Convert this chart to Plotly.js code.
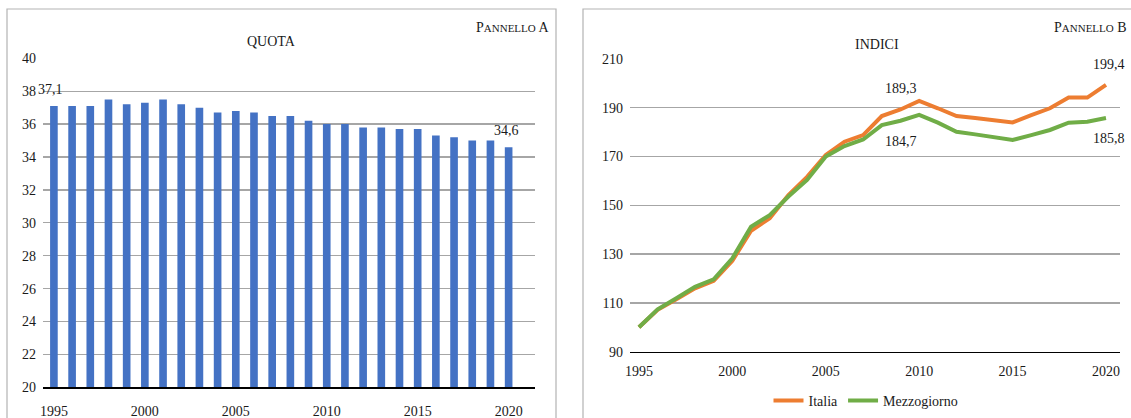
<!DOCTYPE html>
<html>
<head>
<meta charset="utf-8">
<script src="https://cdn.plot.ly/plotly-3.0.1.min.js"></script>
<style>
  html, body { margin: 0; padding: 0; background: #fff; }
  #chart { width: 1131px; height: 418px; }
</style>
</head>
<body>
<div id="chart"></div>
<script>
// Panel A - quota (bars)
const years = [1995, 1996, 1997, 1998, 1999, 2000, 2001, 2002, 2003, 2004, 2005, 2006, 2007,
               2008, 2009, 2010, 2011, 2012, 2013, 2014, 2015, 2016, 2017, 2018, 2019, 2020];
const quota = [37.1, 37.1, 37.1, 37.5, 37.2, 37.3, 37.5, 37.2, 37.0, 36.7, 36.8, 36.7, 36.5,
               36.5, 36.2, 36.0, 36.0, 35.8, 35.8, 35.7, 35.7, 35.3, 35.2, 35.0, 35.0, 34.6];

// Panel B - indici (1995 = 100)
const italia = [100, 107.2, 111.5, 116.0, 119.1, 127.3, 139.6, 144.7, 154.2, 161.7, 170.6, 176.1, 178.8,
                186.6, 189.3, 192.8, 189.8, 186.6, 185.8, 185.0, 184.0, 187.0, 189.8, 194.2, 194.2, 199.4];
const mezzogiorno = [100, 107.4, 111.9, 116.6, 119.7, 128.3, 141.2, 146.0, 153.6, 160.4, 170.0, 174.3, 177.0,
                     182.9, 184.7, 187.1, 183.9, 180.2, 179.1, 178.0, 176.8, 178.8, 180.9, 183.9, 184.3, 185.8];

const xTicks = [1995, 2000, 2005, 2010, 2015, 2020];
const labelYearsA = [1995, 2020];
const labelYearsB = [2009, 2020];

const W = 1131, H = 418;
const px = v => v / W;
const py = v => 1 - v / H;
const FONT = "'Liberation Serif', 'Times New Roman', serif";
const FS = 14;
const TXT = '#1a1a1a';
const comma = v => v.toFixed(1).replace('.', ',');

const traces = [
    {
        x: years, y: quota, type: 'bar', xaxis: 'x', yaxis: 'y',
        marker: { color: '#4472C4' }, width: 0.42, showlegend: false, hoverinfo: 'skip'
    },
    {
        x: years, y: italia, type: 'scatter', mode: 'lines', name: 'Italia',
        xaxis: 'x2', yaxis: 'y2', line: { color: '#ED7D31', width: 4 }
    },
    {
        x: years, y: mezzogiorno, type: 'scatter', mode: 'lines', name: 'Mezzogiorno',
        xaxis: 'x2', yaxis: 'y2', line: { color: '#70AD47', width: 4 }
    }
];

const annotations = [];
labelYearsA.forEach(yr => {
    const v = quota[years.indexOf(yr)];
    annotations.push({ x: yr, y: v, xref: 'x', yref: 'y', text: comma(v), showarrow: false,
        xanchor: 'center', yanchor: 'bottom', yshift: 7, xshift: yr === 1995 ? -3 : -2 });
});
labelYearsB.forEach(yr => {
    const i = years.indexOf(yr);
    annotations.push({ x: yr, y: italia[i], xref: 'x2', yref: 'y2', text: comma(italia[i]), showarrow: false,
        xanchor: 'center', yanchor: 'bottom', yshift: 11, xshift: yr === 2020 ? 3 : 0 });
    annotations.push({ x: yr, y: mezzogiorno[i], xref: 'x2', yref: 'y2', text: comma(mezzogiorno[i]), showarrow: false,
        xanchor: 'center', yanchor: 'top', yshift: -11, xshift: yr === 2020 ? 3 : 0 });
});
annotations.push(
    { x: px(271), y: py(41), xref: 'paper', yref: 'paper', text: 'QUOTA', showarrow: false,
      xanchor: 'center', yanchor: 'middle' },
    { x: px(877), y: py(44), xref: 'paper', yref: 'paper', text: 'INDICI', showarrow: false,
      xanchor: 'center', yanchor: 'middle' },
    { x: px(551), y: py(27), xref: 'paper', yref: 'paper', xanchor: 'right', yanchor: 'middle', showarrow: false,
      text: 'P<span style="font-size:11px">ANNELLO</span> A' },
    { x: px(1129), y: py(27), xref: 'paper', yref: 'paper', xanchor: 'right', yanchor: 'middle', showarrow: false,
      text: 'P<span style="font-size:11px">ANNELLO</span> B' }
);

const xCommon = {
    tickvals: xTicks, ticks: '', showgrid: false, zeroline: false,
    showline: true, linecolor: '#000', linewidth: 1.5,
    tickfont: { family: FONT, size: FS, color: TXT }
};
const yCommon = {
    ticks: '', showgrid: true, gridcolor: '#a6a6a6', gridwidth: 1.3, zeroline: false,
    showline: false, tickfont: { family: FONT, size: FS, color: TXT }, ticklabelstandoff: 6
};

const layout = {
    width: W, height: H,
    margin: { l: 0, r: 0, t: 0, b: 0 },
    paper_bgcolor: '#fff', plot_bgcolor: '#fff',
    font: { family: FONT, size: FS, color: TXT },
    xaxis: Object.assign({}, xCommon, { domain: [px(43), px(535)], range: [1994.4, 2021.45],
        anchor: 'y', ticklabelstandoff: 10 }),
    yaxis: Object.assign({}, yCommon, { domain: [py(387.3), py(58.3)], range: [20, 40], dtick: 2, anchor: 'x' }),
    xaxis2: Object.assign({}, xCommon, { domain: [px(630), px(1120)], range: [1994.52, 2020.75],
        anchor: 'y2', ticklabelstandoff: 6 }),
    yaxis2: Object.assign({}, yCommon, { domain: [py(351.7), py(59)], range: [90, 210],
        tick0: 90, dtick: 20, anchor: 'x2' }),
    showlegend: true,
    legend: {
        orientation: 'h', x: px(866), y: py(401), xanchor: 'center', yanchor: 'middle',
        font: { family: FONT, size: FS, color: TXT }, itemwidth: 30, tracegroupgap: 0,
        bgcolor: 'rgba(0,0,0,0)'
    },
    shapes: [
        { type: 'rect', xref: 'paper', yref: 'paper', x0: px(7), x1: px(556), y0: py(425), y1: py(9),
          line: { color: '#b3b3b3', width: 1.2 } },
        { type: 'rect', xref: 'paper', yref: 'paper', x0: px(583), x1: px(1140), y0: py(425), y1: py(9),
          line: { color: '#b3b3b3', width: 1.2 } }
    ],
    annotations: annotations
};

Plotly.newPlot('chart', traces, layout, { displayModeBar: false, staticPlot: true });
</script>
</body>
</html>
